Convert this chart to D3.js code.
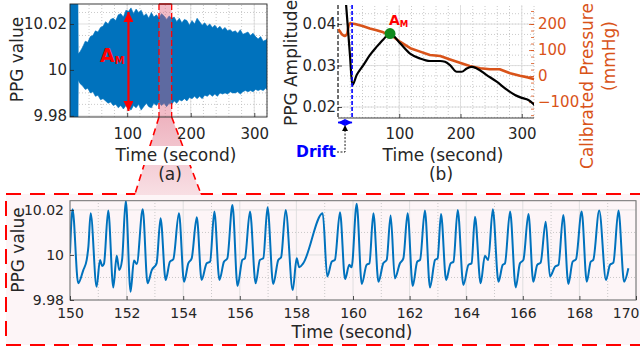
<!DOCTYPE html>
<html><head><meta charset="utf-8">
<script src="https://cdn.jsdelivr.net/npm/d3@7"></script>
<style>body{margin:0;background:#fff}svg{display:block}</style>
</head><body><svg id="c" width="640" height="352"></svg>
<script>
// ---------------- DATA ----------------
// (a) raw PPG envelope (upper / lower extent of the dense oscillation)
const envTime  = [10,22,23,26,30,34,38,42,46,50,54,58,62,66,70,74,78,82,86,90,94,98,102,106,110,114,118,122,126,130,134,138,142,146,150,154,158,162,166,170,174,178,182,186,190,194,198,202,206,210,214,218,222,226,230,234,238,242,246,250,254,258,262,266,270,274,278,282,286,290,294,298,302,306,310,314,318,320];
const envUpper = [10.05,10.05,10.007,10.008,10.010,10.0125,10.012,10.0145,10.015,10.017,10.0165,10.0185,10.019,10.021,10.020,10.022,10.0225,10.0215,10.024,10.0245,10.023,10.026,10.0255,10.027,10.0245,10.0265,10.025,10.026,10.0235,10.0245,10.0225,10.025,10.023,10.024,10.0225,10.0245,10.0235,10.022,10.0235,10.0225,10.023,10.021,10.0225,10.0205,10.022,10.0215,10.0195,10.0215,10.020,10.0225,10.021,10.0195,10.0205,10.019,10.020,10.0185,10.0195,10.018,10.019,10.0175,10.0185,10.017,10.0175,10.0165,10.017,10.016,10.0175,10.0155,10.016,10.0165,10.015,10.016,10.0145,10.0135,10.0145,10.0125,10.013,10.0135];
const envLower = [9.95,9.95,9.9955,9.994,9.993,9.9915,9.992,9.990,9.9905,9.9885,9.989,9.987,9.9875,9.9865,9.9855,9.986,9.9845,9.985,9.9835,9.9845,9.983,9.9845,9.9835,9.9825,9.9845,9.9835,9.985,9.9825,9.984,9.9855,9.984,9.9835,9.9855,9.9845,9.986,9.9845,9.9855,9.984,9.9855,9.985,9.9865,9.9855,9.987,9.9865,9.9875,9.9865,9.988,9.9875,9.9885,9.9875,9.9885,9.9875,9.989,9.9885,9.9895,9.9885,9.9895,9.9885,9.990,9.9895,9.990,9.9895,9.9905,9.990,9.990,9.9905,9.9895,9.9905,9.991,9.9905,9.991,9.9905,9.9915,9.991,9.9915,9.991,9.992,9.9915];
const aXTicks = [100,200,300];
const aYTicks = [9.98,10,10.02];
const amArrowTime = 102;
const zoomWindow = [150,170];

// (b) PPG amplitude (left axis) and calibrated pressure (right axis)
const ampTime  = [12,19.6,23.4,30.5,41.4,52,63,74,84.9,101.2,117.6,133.9,150.2,166.6,174.7,182.9,193.8,202,210.2,218.3,226.5,242.8,259.1,275.5,289,300,310.8,321.7];
const ampValue = [0.0470,0.0324,0.0253,0.0277,0.0301,0.0325,0.0345,0.0363,0.0377,0.0354,0.0329,0.0317,0.0311,0.0311,0.0309,0.0301,0.0285,0.0285,0.0293,0.0297,0.0293,0.0277,0.0261,0.0242,0.0229,0.0222,0.0217,0.0204];
const pressTime  = [0.5,3,6,9,11.4,13.5,15.2,17.5,19.6,27.8,40,52,63,74,90,101,118,134,150,167,183,199,215,232,248,264,281,297,310,321];
const pressValue = [180,172,161,156,154,157,164,196,203,200,192,183,176,168,151,132,107,94,81,77,64,51,39,30,26,26,11,1,-5,-12];
const peakTime = [84.9];
const peakAmp  = [0.0377];
const driftRange = [0,23];
const bXTicks = [100,200,300];
const bYLTicks = [0.02,0.03,0.04];
const bYRTicks = [-100,0,100,200];

// zoomed PPG segment 150-170 s
const zoomTime  = [150,150.09,150.29,150.47,150.59,150.65,150.73,150.94,151.06,151.14,151.20,151.35,151.53,151.65,151.74,151.84,151.97,152.14,152.26,152.36,152.57,152.74,152.89,153.06,153.20,153.38,153.53,153.65,153.85,154.03,154.18,154.30,154.48,154.65,154.83,154.95,155.10,155.28,155.44,155.56,155.74,155.92,156.09,156.18,156.36,156.56,156.71,156.83,156.98,157.18,157.36,157.46,157.62,157.87,158.01,158.10,158.24,158.93,159.09,159.25,159.36,159.54,159.72,159.87,159.95,160.13,160.31,160.48,160.58,160.72,160.90,161.07,161.19,161.33,161.48,161.66,161.78,161.93,162.11,162.27,162.37,162.54,162.72,162.90,162.99,163.11,163.29,163.45,163.55,163.70,163.90,164.08,164.19,164.31,164.51,164.66,164.78,164.94,165.14,165.29,165.37,165.55,165.75,165.90,166.02,166.20,166.37,166.51,166.63,166.81,166.96,167.14,167.26,167.43,167.61,167.76,167.88,168.08,168.26,168.40,168.49,168.70,168.94,169.08,169.20,169.38,169.58,169.73];
const zoomValue = [10.0007,10.0203,9.9874,9.9933,9.9978,10.0037,10.0185,9.9859,9.9978,9.9951,9.996,10.0197,9.9856,9.9996,9.9933,9.9978,10.0241,9.9837,9.9975,9.996,10.0203,9.9874,9.9933,9.9963,10.0163,9.9889,9.997,9.9981,10.0185,9.9881,9.9963,9.9985,10.0167,9.9889,9.9963,9.997,10.0193,9.9889,9.997,9.9985,10.0222,9.9862,9.9978,9.9985,10.0193,9.9874,9.9978,9.9985,10.0212,9.9871,9.9978,9.999,10.020,9.9844,9.9985,9.9945,9.9963,10.0185,9.9904,9.997,9.9978,10.019,9.9893,9.9956,9.9945,10.0227,9.9871,9.9956,9.9963,10.0185,9.9881,9.9963,9.9978,10.0175,9.9896,9.9963,9.9985,10.0185,9.9862,9.997,9.9978,10.0197,9.9856,9.9978,9.9985,10.0182,9.9889,9.9963,9.997,10.020,9.9867,9.9956,9.9963,10.017,9.9874,9.9996,9.9978,10.0203,9.9881,9.9956,9.9963,10.0193,9.9856,9.9963,9.9978,10.0182,9.9881,9.9956,9.9966,10.0148,9.9904,9.9948,9.9956,10.0178,9.9871,9.997,9.9981,10.0193,9.9881,9.997,9.9978,10.0197,9.9889,9.9956,9.9966,10.0197,9.9881,9.9941];
const zXTicks = [150,152,154,156,158,160,162,164,166,168,170];
const zYTicks = [9.98,10,10.02];

// ---------------- STYLE ----------------
const FONT = '"DejaVu Sans", Verdana, sans-serif';
const TXT = '#262626';
const BLUE = '#0072BD', ORANGE = '#D95319', RED = '#ff0000';

const svg = d3.select('#c');
const defs = svg.append('defs');
function marker(id, color, w, h){
  defs.append('marker').attr('id', id).attr('viewBox','0 0 10 10').attr('refX',10).attr('refY',5)
    .attr('markerWidth', w).attr('markerHeight', h).attr('markerUnits','userSpaceOnUse')
    .attr('orient','auto-start-reverse')
    .append('path').attr('d','M0,0L10,5L0,10Z').attr('fill', color);
}
marker('arrRed', RED, 11, 10);
marker('arrBlue', '#0000ff', 7, 7);
marker('arrBlk', '#000', 6, 6);
const grad = defs.append('linearGradient').attr('id','trap').attr('x1',0).attr('y1',0).attr('x2',0).attr('y2',1);
grad.append('stop').attr('offset','0%').attr('stop-color','#eeb3bf');
grad.append('stop').attr('offset','100%').attr('stop-color','#f8dfe4');

function clip(id, x0, y0, w, h){
  defs.append('clipPath').attr('id', id).append('rect').attr('x',x0).attr('y',y0).attr('width',w).attr('height',h);
}
function styleAxis(sel, color, size){
  sel.select('.domain').remove();
  sel.selectAll('.tick line').attr('stroke', color).attr('stroke-width', 0.8);
  sel.selectAll('.tick text').attr('fill', color).attr('font-size', size).attr('font-family', FONT);
}
function grid(g, x, y, xMinor, yMinor, xMajor, yMajor){
  const [x0,x1] = x.range(), [y0,y1] = y.range();
  g.selectAll(null).data(xMinor).join('line')
    .attr('x1',d=>x(d)).attr('x2',d=>x(d)).attr('y1',y0).attr('y2',y1)
    .attr('stroke','#bdbdbd').attr('stroke-width',0.8).attr('stroke-dasharray','1,2');
  g.selectAll(null).data(yMinor).join('line')
    .attr('y1',d=>y(d)).attr('y2',d=>y(d)).attr('x1',x0).attr('x2',x1)
    .attr('stroke','#bdbdbd').attr('stroke-width',0.8).attr('stroke-dasharray','1,2');
  g.selectAll(null).data(xMajor).join('line')
    .attr('x1',d=>x(d)).attr('x2',d=>x(d)).attr('y1',y0).attr('y2',y1)
    .attr('stroke','#dcdcdc').attr('stroke-width',0.9);
  g.selectAll(null).data(yMajor).join('line')
    .attr('y1',d=>y(d)).attr('y2',d=>y(d)).attr('x1',x0).attr('x2',x1)
    .attr('stroke','#dcdcdc').attr('stroke-width',0.9);
}
function label(txt, x, y, size, opts={}){
  const t = svg.append('text').attr('x',x).attr('y',y).attr('font-family',FONT).attr('font-size',size)
    .attr('fill', opts.color||TXT).attr('text-anchor', opts.anchor||'middle').text(txt);
  if (opts.rotate) t.attr('transform',`rotate(-90,${x},${y})`).attr('dy','0.35em');
  if (opts.bold) t.attr('font-weight','bold');
  return t;
}

// ---------------- SCALES ----------------
const xA = d3.scaleLinear().domain([10,320]).range([70,267]);
const yA = d3.scaleLinear().domain([9.9795,10.0287]).range([117,4]);
const xB = d3.scaleLinear().domain([0,320]).range([338,534]);
const yBL = d3.scaleLinear().domain([0.01735,0.0446]).range([118,5]);
const yBR = d3.scaleLinear().domain([-161,273]).range([118,5]);
const xZ = d3.scaleLinear().domain(zoomWindow).range([70,636]);
const yZ = d3.scaleLinear().domain([9.98,10.0241]).range([300,200.7]);

// ---------------- ZOOM FRAME (background) ----------------
svg.append('rect').attr('x',6).attr('y',194).attr('width',640).attr('height',151).attr('fill','#fdf5f7');
svg.append('rect').attr('x',6).attr('y',194).attr('width',640).attr('height',151).attr('fill','none')
  .attr('stroke',RED).attr('stroke-width',2).attr('stroke-dasharray','15,9');
const bx0 = xA(zoomWindow[0]), bx1 = xA(zoomWindow[1]);
svg.append('path').attr('d',`M${bx0},117L${bx1},117L201,195L135,195Z`).attr('fill','url(#trap)');
svg.append('line').attr('x1',bx0).attr('y1',117).attr('x2',135).attr('y2',194).attr('stroke',RED).attr('stroke-width',1.6).attr('stroke-dasharray','7,5');
svg.append('line').attr('x1',bx1).attr('y1',117).attr('x2',201).attr('y2',194).attr('stroke',RED).attr('stroke-width',1.6).attr('stroke-dasharray','7,5');

// ---------------- PLOT (a) ----------------
clip('clipA', 70, 4, 197, 113);
const gA = svg.append('g');
gA.append('rect').attr('x',70).attr('y',4).attr('width',197).attr('height',113).attr('fill','#fff');
grid(gA, xA, yA, d3.range(20,321,20), d3.range(9.985,10.03,0.005).filter(v=>Math.abs(v-10)>1e-6 && Math.abs(v-10.02)>1e-6), aXTicks, aYTicks);
const envData = envTime.map((t,i)=>({t, hi:envUpper[i], lo:envLower[i]}));
gA.append('path').attr('clip-path','url(#clipA)').datum(envData)
  .attr('d', d3.area().x(d=>xA(d.t)).y0(d=>yA(d.lo)).y1(d=>yA(d.hi)))
  .attr('fill',BLUE).attr('stroke',BLUE).attr('stroke-width',0.6);
// highlighted window
gA.append('rect').attr('x',bx0).attr('y',4).attr('width',bx1-bx0).attr('height',113)
  .attr('fill','#e0607a').attr('fill-opacity',0.42);
gA.append('line').attr('x1',bx0).attr('x2',bx1).attr('y1',4).attr('y2',4).attr('stroke',RED).attr('stroke-width',1.5);
[bx0,bx1].forEach(x=>gA.append('line').attr('x1',x).attr('x2',x).attr('y1',4).attr('y2',117)
  .attr('stroke',RED).attr('stroke-width',1.3).attr('stroke-dasharray','6,3'));
gA.append('rect').attr('x',70).attr('y',4).attr('width',197).attr('height',113).attr('fill','none').attr('stroke',TXT).attr('stroke-width',0.9);
gA.append('g').attr('transform','translate(0,117)')
  .call(d3.axisBottom(xA).tickValues(aXTicks).tickSizeInner(-4).tickSizeOuter(0).tickPadding(11))
  .call(s=>styleAxis(s,TXT,15));
gA.append('g').attr('transform','translate(70,0)')
  .call(d3.axisLeft(yA).tickValues(aYTicks).tickFormat(d3.format('~g')).tickSizeInner(-4).tickSizeOuter(0).tickPadding(3))
  .call(s=>styleAxis(s,TXT,15));
// A_M arrow
gA.append('line').attr('x1',xA(amArrowTime)).attr('x2',xA(amArrowTime)).attr('y1',yA.range()[1]+8).attr('y2',yA.range()[0]-6)
  .attr('stroke',RED).attr('stroke-width',2.2).attr('marker-start','url(#arrRed)').attr('marker-end','url(#arrRed)');
const amA = svg.append('text').attr('x',100).attr('y',62).attr('font-family',FONT).attr('font-weight','bold').attr('fill',RED).attr('font-size',19).text('A');
amA.append('tspan').attr('font-size',10).attr('dy',2).text('M');
// labels
label('PPG value', 17, yA(10.0045), 17, {rotate:true});
const tl = label('Time (second)', 176, 161, 17);
const bb = tl.node().getBBox();
svg.insert('rect', () => tl.node()).attr('x',bb.x-2).attr('y',bb.y+1).attr('width',bb.width+4).attr('height',bb.height-1).attr('fill','#fff');
label('(a)', 170, 180, 17);

// ---------------- PLOT (b) ----------------
clip('clipB', 338, 5, 196, 113);
const gB = svg.append('g');
grid(gB, xB, yBL, d3.range(20,321,20), d3.range(0.0175,0.0446,0.0025), bXTicks, bYLTicks);
gB.append('line').attr('x1',338).attr('x2',534).attr('y1',118).attr('y2',118).attr('stroke',TXT).attr('stroke-width',0.9);
gB.append('g').attr('transform','translate(0,118)')
  .call(d3.axisBottom(xB).tickValues(bXTicks).tickSizeInner(-4).tickSizeOuter(0).tickPadding(10))
  .call(s=>styleAxis(s,TXT,15));
gB.append('g').attr('transform','translate(338,0)')
  .call(d3.axisLeft(yBL).tickValues(bYLTicks).tickFormat(d3.format('.2f')).tickSizeInner(-4).tickSizeOuter(0).tickPadding(2))
  .call(s=>styleAxis(s,TXT,15));
gB.append('g').attr('transform','translate(534,0)')
  .call(d3.axisRight(yBR).tickValues(d3.range(-150,251,25)).tickFormat('').tickSizeInner(-3).tickSizeOuter(0))
  .call(s=>styleAxis(s,ORANGE,15));
gB.append('g').attr('transform','translate(534,0)')
  .call(d3.axisRight(yBR).tickValues(bYRTicks).tickSizeInner(-5).tickSizeOuter(0).tickPadding(4))
  .call(s=>styleAxis(s,ORANGE,15));
// drift lines
gB.append('line').attr('x1',xB(driftRange[0])).attr('x2',xB(driftRange[0])).attr('y1',5).attr('y2',118)
  .attr('stroke','#000').attr('stroke-width',1.1).attr('stroke-dasharray','4,2');
// curves
gB.append('path').attr('clip-path','url(#clipB)').datum(pressTime.map((t,i)=>[t,pressValue[i]]))
  .attr('d', d3.line().x(d=>xB(d[0])).y(d=>yBR(d[1])))
  .attr('fill','none').attr('stroke',ORANGE).attr('stroke-width',2.6).attr('stroke-linejoin','round');
gB.append('path').attr('clip-path','url(#clipB)').datum(ampTime.map((t,i)=>[t,ampValue[i]]))
  .attr('d', d3.line().curve(d3.curveMonotoneX).x(d=>xB(d[0])).y(d=>yBL(d[1])))
  .attr('fill','none').attr('stroke','#000').attr('stroke-width',2.2);
gB.append('line').attr('x1',xB(driftRange[1])).attr('x2',xB(driftRange[1])).attr('y1',5).attr('y2',118)
  .attr('stroke','#0000ff').attr('stroke-width',1.6).attr('stroke-dasharray','4,2');
gB.selectAll(null).data(peakTime).join('circle')
  .attr('cx',d=>xB(d)).attr('cy',(d,i)=>yBL(peakAmp[i])).attr('r',5.5).attr('fill','#108a1c');
const amB = svg.append('text').attr('x',389).attr('y',25).attr('font-family',FONT).attr('font-weight','bold').attr('fill',RED).attr('font-size',14).text('A');
amB.append('tspan').attr('font-size',8.5).attr('dy',1.5).text('M');
// drift arrow + note
svg.append('line').attr('x1',xB(driftRange[0])).attr('x2',xB(driftRange[1])).attr('y1',122.5).attr('y2',122.5)
  .attr('stroke','#0000ff').attr('stroke-width',1.8).attr('marker-start','url(#arrBlue)').attr('marker-end','url(#arrBlue)');
const mid = (xB(driftRange[0])+xB(driftRange[1]))/2;
svg.append('path').attr('d',`M337,152L${mid},152L${mid},125`).attr('fill','none')
  .attr('stroke','#000').attr('stroke-width',0.9).attr('stroke-dasharray','2,1.5').attr('marker-end','url(#arrBlk)');
label('Drift', 336, 157, 15.5, {anchor:'end', bold:true, color:'#0000ff'});
label('PPG Amplitude', 291, 63, 17, {rotate:true});
label('Calibrated Pressure', 587, 86, 17, {rotate:true, color:ORANGE});
label('(mmHg)', 609, 56, 17, {rotate:true, color:ORANGE});
label('Time (second)', 443, 161, 17);
label('(b)', 441, 180, 17);

// ---------------- ZOOM PLOT ----------------
clip('clipZ', 70, 200.7, 566, 99.3);
const gZ = svg.append('g');
grid(gZ, xZ, yZ, d3.range(151,170,2), [9.99,10.01], zXTicks, zYTicks);
gZ.append('path').attr('clip-path','url(#clipZ)').datum(zoomTime.map((t,i)=>[t,zoomValue[i]]))
  .attr('d', d3.line().curve(d3.curveMonotoneX).x(d=>xZ(d[0])).y(d=>yZ(d[1])))
  .attr('fill','none').attr('stroke',BLUE).attr('stroke-width',2).attr('stroke-linejoin','round');
gZ.append('rect').attr('x',70).attr('y',200.7).attr('width',566).attr('height',99.3).attr('fill','none').attr('stroke','#6e6e6e').attr('stroke-width',1);
gZ.append('g').attr('transform','translate(0,300)')
  .call(d3.axisBottom(xZ).tickValues(zXTicks).tickSizeInner(-4).tickSizeOuter(0).tickPadding(8))
  .call(s=>styleAxis(s,TXT,14))
  .call(s=>s.selectAll('.tick text').filter(d=>d===zoomWindow[1]).attr('text-anchor','end').attr('x',3));
gZ.append('g').attr('transform','translate(70,0)')
  .call(d3.axisLeft(yZ).tickValues(zYTicks).tickFormat(d3.format('~g')).tickSizeInner(-4).tickSizeOuter(0).tickPadding(6))
  .call(s=>styleAxis(s,TXT,14));
label('PPG value', 18, 250, 17, {rotate:true});
label('Time (second)', 352, 338, 17);
</script></body></html>
